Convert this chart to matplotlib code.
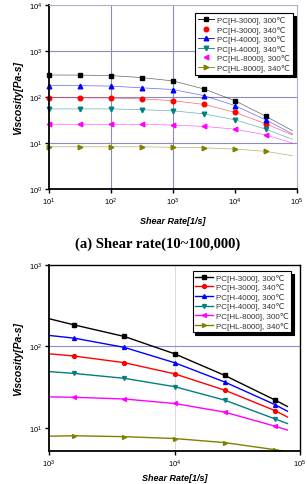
import matplotlib
matplotlib.use("Agg")
import matplotlib.pyplot as plt
from matplotlib.lines import Line2D
import numpy as np

labels = ["PC[H-3000], 300℃", "PC[H-3000], 340℃", "PC[H-4000], 300℃",
          "PC[H-4000], 340℃", "PC[HL-8000], 300℃", "PC[HL-8000], 340℃"]
colors = ["#000000", "#ff0000", "#0000ff", "#008080", "#ff00ff", "#808000"]
markers = ["s", "o", "^", "v", "<", ">"]

# (a) shear rate 10 ~ 100,000 : marker points
x_a = [10, 31.6, 100, 316, 1000, 3162, 10000, 31623]
y_a = [
    [300, 298, 291, 263, 223, 149, 83, 38],
    [97, 96, 95, 91, 83, 69, 46.5, 26],
    [176, 176, 172, 158, 145, 107, 65, 31.7],
    [55, 55, 55, 53, 50, 43, 32, 20],
    [25.5, 25.5, 25.5, 25.5, 24.5, 23, 20, 15],
    [8.3, 8.3, 8.3, 8.3, 8.1, 7.9, 7.4, 6.6],
]
x_a_end = 85000
y_a_end = [18.5, 15, 15.8, 12, 10, 5.3]

# (b) high shear rate : curve start, marker points, curve end
x_b_start = 1000
x_b = [1585, 3981, 10000, 25119, 63096]
x_b_end = 79433
y_b_start = [218, 81, 136, 49, 24, 7.9]
y_b = [
    [183, 132, 81, 44, 22],
    [76, 63, 46, 29, 16.3],
    [126, 97, 63, 36.5, 19.3],
    [46.5, 40.5, 32, 21.9, 12.9],
    [23.7, 22.6, 19.9, 15.6, 10.5],
    [8.0, 7.8, 7.4, 6.6, 5.4],
]
y_b_end = [18.3, 13.6, 16, 11.3, 9.4, 5.1]

plt.rcParams['font.family'] = ['Liberation Sans', 'DejaVu Sans']

fig = plt.figure(figsize=(3.07, 4.85), dpi=100)
ax1 = fig.add_axes([0.160, 0.608, 0.807, 0.380])
ax2 = fig.add_axes([0.160, 0.068, 0.817, 0.384])

def style_axes(ax, xpad):
    ax.set_xscale('log')
    ax.set_yscale('log')
    ax.minorticks_off()
    ax.tick_params(axis='both', which='major', labelsize=5.5, length=3,
                   width=1.0, direction='out', pad=2)
    for s in ['left', 'bottom']:
        ax.spines[s].set_linewidth(1.3)
    ax.set_xlabel("Shear Rate[1/s]", fontsize=6.5, fontweight='bold',
                  fontstyle='italic', labelpad=xpad)
    ax.set_ylabel("Viscosity[Pa-s]", fontsize=7.5, fontweight='bold',
                  fontstyle='italic', labelpad=4)

# ---- top chart
style_axes(ax1, 6)
ax1.set_xlim(10, 1e5)
ax1.set_ylim(1, 1e4)
for s in ['top', 'right']:
    ax1.spines[s].set_color('#b0b0c8')
    ax1.spines[s].set_linewidth(0.8)
ax1.set_axisbelow(True)
for v in [1e2, 1e3]:
    ax1.axvline(v, color='#8c8cc0', lw=0.8, zorder=0)
for v in [1e1, 1e2, 1e3]:
    ax1.axhline(v, color='#8c8cc0', lw=0.8, zorder=0)

for i in range(6):
    xs = x_a + [x_a_end]
    ys = y_a[i] + [y_a_end[i]]
    ax1.plot(xs, ys, color=colors[i], lw=0.5, alpha=0.6)
    ax1.plot(x_a, y_a[i], color=colors[i], lw=0, marker=markers[i],
             markersize=3.3, clip_on=False)

h1 = []
for i in range(6):
    ls = '-' if i not in (1, 4) else 'None'
    h1.append(Line2D([], [], color=colors[i], lw=0.6, ls=ls,
                     marker=markers[i], markersize=3.3))
leg1 = ax1.legend(h1, labels, loc='upper right', fontsize=5.8,
                  bbox_to_anchor=(0.985, 0.955), frameon=True, fancybox=False,
                  shadow={'color': 'black', 'alpha': 1}, edgecolor='black',
                  borderpad=0.35, labelspacing=0.2, handlelength=2.0,
                  handletextpad=0.4, borderaxespad=0)
leg1.get_frame().set_linewidth(0.8)
for t in leg1.get_texts():
    t.set_color('#333333')

# ---- bottom chart
style_axes(ax2, 3)
ax2.set_xlim(1e3, 1e5)
ax2.set_ylim(5.2, 1e3)
for s in ['top', 'right']:
    ax2.spines[s].set_linewidth(1.0)
ax2.axvline(1e4, color='#d8d8e0', lw=0.7, zorder=0)
ax2.axhline(1e2, color='#8c8cd8', lw=0.8, zorder=0)

for i in range(6):
    xs = [x_b_start] + x_b + [x_b_end]
    ys = [y_b_start[i]] + y_b[i] + [y_b_end[i]]
    ax2.plot(xs, ys, color=colors[i], lw=1.0, marker=markers[i],
             markersize=2.8, markevery=list(range(1, 6)))

h2 = [Line2D([], [], color=colors[i], lw=1.0, marker=markers[i],
             markersize=2.8) for i in range(6)]
leg2 = ax2.legend(h2, labels, loc='upper right', fontsize=5.8,
                  bbox_to_anchor=(0.965, 0.965), frameon=True, fancybox=False,
                  shadow={'color': 'black', 'alpha': 1}, edgecolor='black',
                  borderpad=0.3, labelspacing=0.2, handlelength=2.2,
                  handletextpad=0.4, borderaxespad=0)
leg2.get_frame().set_linewidth(0.8)
for t in leg2.get_texts():
    t.set_color('#333333')

fig.text(0.515, 0.497, "(a) Shear rate(10~100,000)", ha='center', va='center',
         fontsize=10.5, fontweight='bold', family='Liberation Serif')

fig.savefig("out.png", dpi=100)
